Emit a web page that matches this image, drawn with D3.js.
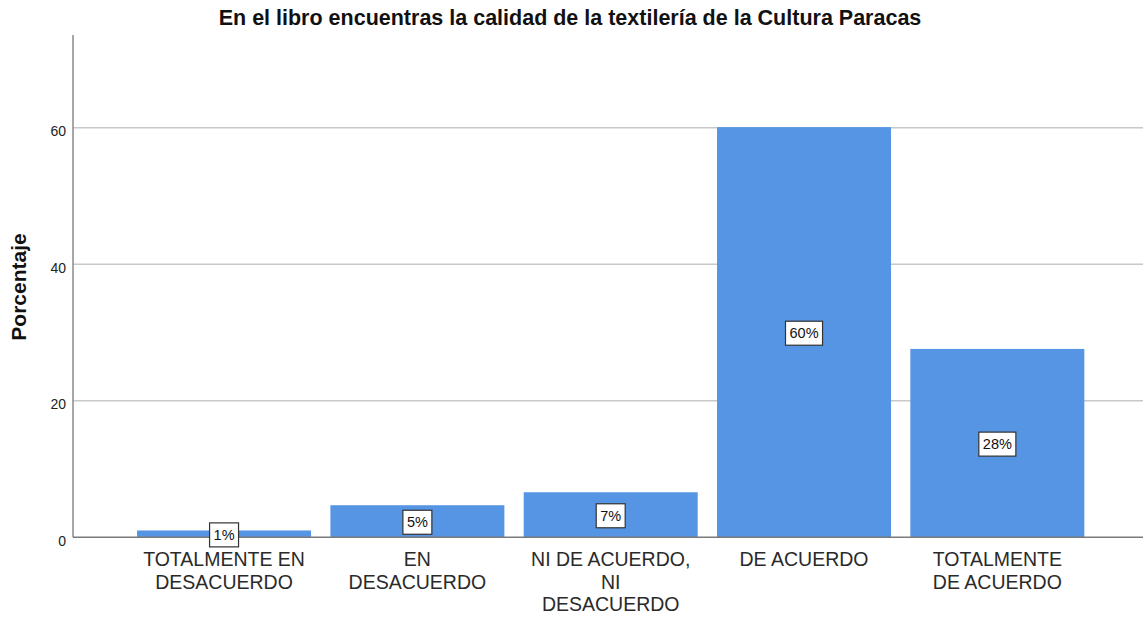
<!DOCTYPE html>
<html>
<head>
<meta charset="utf-8">
<script src="https://cdn.jsdelivr.net/npm/d3@7"></script>
<style>
  body { margin: 0; background: #fff; }
  text { font-family: Arial, "Liberation Sans", sans-serif; }
</style>
</head>
<body>
<div id="chart"></div>
<script>
// data
var categories = ["TOTALMENTE EN DESACUERDO", "EN DESACUERDO", "NI DE ACUERDO, NI DESACUERDO", "DE ACUERDO", "TOTALMENTE DE ACUERDO"];
var categoryLines = [
    ["TOTALMENTE EN", "DESACUERDO"],
    ["EN", "DESACUERDO"],
    ["NI DE ACUERDO,", "NI", "DESACUERDO"],
    ["DE ACUERDO"],
    ["TOTALMENTE", "DE ACUERDO"]
];
var percentages = [1.0, 4.7, 6.6, 60.1, 27.6];
var barLabels = ["1%", "5%", "7%", "60%", "28%"];
var yTicks = [0, 20, 40, 60];

var WIDTH = 1143, HEIGHT = 618;
var AXIS_X = 73, BASE_Y = 537.3, TOP_Y = 35;

var svg = d3.select('#chart').append('svg')
    .attr('width', WIDTH)
    .attr('height', HEIGHT);

var x = d3.scaleBand()
    .domain(categories)
    .range([127.4, 1094])
    .paddingInner(0.1)
    .paddingOuter(0.05);

var y = d3.scaleLinear()
    .domain([0, 73.6])
    .range([BASE_Y, TOP_Y]);

// gridlines
svg.append('g').selectAll('line')
    .data(yTicks.filter(function(d) { return d > 0; }))
    .enter()
    .append('line')
    .attr('x1', AXIS_X)
    .attr('x2', WIDTH)
    .attr('y1', function(d) { return y(d); })
    .attr('y2', function(d) { return y(d); })
    .style('stroke', '#c8c8c8')
    .style('stroke-width', 1.5);

// y axis
var yAxis = svg.append('g')
    .attr('transform', 'translate(' + AXIS_X + ',0)')
    .call(d3.axisLeft(y).tickValues(yTicks).tickSize(0).tickPadding(7));
yAxis.select('.domain').remove();
yAxis.selectAll('text')
    .style('font-size', '14px')
    .style('fill', '#222')
    .attr('dy', '8');

svg.append('line')
    .attr('x1', AXIS_X).attr('x2', AXIS_X)
    .attr('y1', TOP_Y).attr('y2', BASE_Y)
    .style('stroke', '#8a8a8a')
    .style('stroke-width', 1.5);

// bars
svg.append('g').selectAll('rect')
    .data(percentages)
    .enter()
    .append('rect')
    .attr('x', function(d, i) { return x(categories[i]); })
    .attr('y', function(d) { return y(d); })
    .attr('width', x.bandwidth())
    .attr('height', function(d) { return BASE_Y - y(d); })
    .style('fill', '#5595e3');

// baseline
svg.append('line')
    .attr('x1', AXIS_X).attr('x2', WIDTH)
    .attr('y1', BASE_Y).attr('y2', BASE_Y)
    .style('stroke', '#7a7a7a')
    .style('stroke-width', 1.5);

// value boxes
var labels = svg.append('g').selectAll('g')
    .data(percentages)
    .enter()
    .append('g')
    .attr('transform', function(d, i) {
        var cx = x(categories[i]) + x.bandwidth() / 2;
        var cy = (y(d) + BASE_Y) / 2 + 1;
        return 'translate(' + cx + ',' + cy + ')';
    });

labels.append('text')
    .attr('text-anchor', 'middle')
    .attr('dy', '0.36em')
    .style('font-size', '14.5px')
    .style('fill', '#111')
    .text(function(d, i) { return barLabels[i]; });

labels.each(function() {
    var g = d3.select(this);
    var w = g.select('text').node().getComputedTextLength() + 8;
    g.insert('rect', 'text')
        .attr('x', -w / 2)
        .attr('y', -12)
        .attr('width', w)
        .attr('height', 24)
        .style('fill', '#fff')
        .style('stroke', '#333')
        .style('stroke-width', 1.2);
});

// category labels, one text per line
var LINE_H = 22.5;
svg.append('g').selectAll('g')
    .data(categories)
    .enter()
    .append('g')
    .each(function(d, i) {
        var g = d3.select(this);
        categoryLines[i].forEach(function(line, k) {
            g.append('text')
                .attr('text-anchor', 'middle')
                .attr('x', x(d) + x.bandwidth() / 2)
                .attr('y', 566 + k * LINE_H)
                .style('font-size', '19.5px')
                .style('fill', '#2a2a2a')
                .text(line);
        });
    });

// title
svg.append('text')
    .attr('x', 570)
    .attr('y', 25)
    .attr('text-anchor', 'middle')
    .style('font-size', '21.5px')
    .style('font-weight', 'bold')
    .style('fill', '#111')
    .text('En el libro encuentras la calidad de la textilería de la Cultura Paracas');

// y axis title
svg.append('text')
    .attr('transform', 'translate(26,287) rotate(-90)')
    .attr('text-anchor', 'middle')
    .style('font-size', '21px')
    .style('font-weight', 'bold')
    .style('fill', '#111')
    .text('Porcentaje');
</script>
</body>
</html>
